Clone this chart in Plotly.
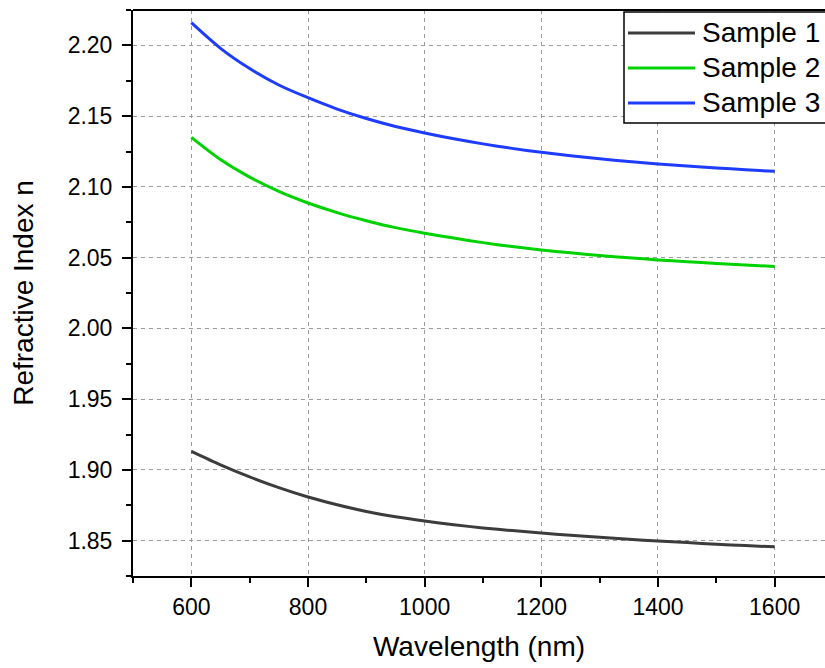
import plotly.graph_objects as go

wavelength = [600, 650, 700, 750, 800, 850, 900, 950, 1000, 1050, 1100, 1150,
              1200, 1250, 1300, 1350, 1400, 1450, 1500, 1550, 1600]

sample1 = [1.9130, 1.9035, 1.8950, 1.8874, 1.8808, 1.8753, 1.8706, 1.8668, 1.8638,
           1.8612, 1.8590, 1.8571, 1.8554, 1.8538, 1.8524, 1.8510, 1.8497, 1.8486,
           1.8475, 1.8465, 1.8456]
sample2 = [2.1350, 2.1193, 2.1069, 2.0968, 2.0886, 2.0818, 2.0761, 2.0712, 2.0673,
           2.0638, 2.0606, 2.0578, 2.0554, 2.0534, 2.0515, 2.0499, 2.0484, 2.0471,
           2.0459, 2.0448, 2.0438]
sample3 = [2.2160, 2.1979, 2.1836, 2.1720, 2.1630, 2.1550, 2.1483, 2.1427, 2.1381,
           2.1340, 2.1304, 2.1272, 2.1244, 2.1220, 2.1198, 2.1179, 2.1162, 2.1147,
           2.1134, 2.1121, 2.1110]

series_names = ["Sample 1", "Sample 2", "Sample 3"]
series_values = [sample1, sample2, sample3]
series_colors = ["#3c3c3c", "#00d200", "#1e3cff"]

FONT = "Liberation Sans, Arial, sans-serif"

# plot-area geometry (pixels) used to place the hand-drawn legend box
W, H = 825, 668
ML, MR, MT, MB = 133, 0, 10, 92
PW, PH = W - ML - MR, H - MT - MB


def px(xp):
    return (xp - ML) / PW


def py(yp):
    return (H - MB - yp) / PH


fig = go.Figure()
for name, vals, col in zip(series_names, series_values, series_colors):
    fig.add_trace(go.Scatter(x=wavelength, y=vals, mode="lines", name=name,
                             line=dict(color=col, width=3, shape="spline",
                                       smoothing=0.8),
                             showlegend=False))

axis_common = dict(
    showline=True, linecolor="black", linewidth=2,
    ticks="outside", ticklen=9, tickwidth=2, tickcolor="black",
    showgrid=True, gridcolor="#9a9a9a", gridwidth=1, griddash="4px,4px",
    zeroline=False,
    tickfont=dict(family=FONT, size=23, color="black"),
)

fig.update_xaxes(
    range=[500, 1686.3], tick0=600, dtick=200,
    minor=dict(dtick=100, tick0=500, ticks="outside", ticklen=5, tickwidth=2,
               tickcolor="black", showgrid=False),
    title=dict(text="Wavelength (nm)", font=dict(family=FONT, size=28, color="black"),
               standoff=18),
    **axis_common,
)
fig.update_yaxes(
    range=[1.825, 2.225], tick0=1.85, dtick=0.05, tickformat=".2f",
    minor=dict(dtick=0.025, tick0=1.825, ticks="outside", ticklen=5, tickwidth=2,
               tickcolor="black", showgrid=False),
    ticklabelstandoff=5,
    title=dict(text="Refractive Index n", font=dict(family=FONT, size=28, color="black"),
               standoff=26),
    **axis_common,
)

# top frame line
fig.add_shape(type="line", xref="paper", yref="paper", x0=0, x1=1, y0=1, y1=1,
              line=dict(color="black", width=2))

# legend box
fig.add_shape(type="rect", xref="paper", yref="paper",
              x0=px(624), x1=px(835), y0=py(123), y1=py(12),
              fillcolor="white", line=dict(color="black", width=1.5), layer="above")
rows = [33, 68, 103]
for name, col, ry in zip(series_names, series_colors, rows):
    fig.add_shape(type="line", xref="paper", yref="paper",
                  x0=px(628), x1=px(695), y0=py(ry), y1=py(ry),
                  line=dict(color=col, width=3), layer="above")
    fig.add_annotation(text=name, xref="paper", yref="paper",
                       x=px(700), y=py(ry - 1), xanchor="left", yanchor="middle",
                       showarrow=False,
                       font=dict(family=FONT, size=28, color="black"))

fig.update_layout(
    width=W, height=H,
    margin=dict(l=ML, r=MR, t=MT, b=MB),
    plot_bgcolor="white", paper_bgcolor="white",
    showlegend=False,
)

fig.write_html("out.html")
